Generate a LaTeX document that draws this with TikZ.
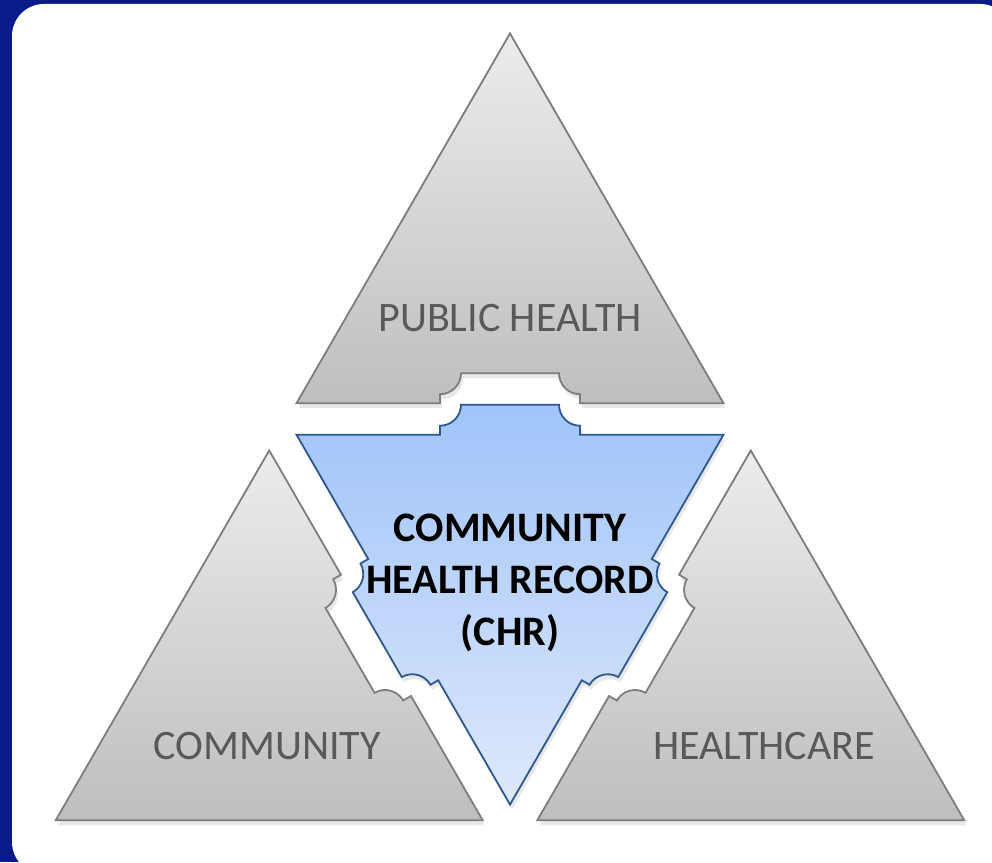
\documentclass[tikz,border=0pt]{standalone}
\usepackage{fontspec}
\setmainfont{Carlito}
\usepackage{tikz}
\usetikzlibrary{shadows}

\definecolor{frameblue}{RGB}{10,26,138}
\definecolor{edgegray}{RGB}{125,125,125}
\definecolor{labelgray}{RGB}{89,89,89}
\definecolor{graytop}{RGB}{236,236,236}
\definecolor{graybot}{RGB}{190,190,190}
\definecolor{edgeblue}{RGB}{47,88,145}
\definecolor{chrtop}{RGB}{160,196,250}
\definecolor{chrbot}{RGB}{222,232,251}

% triangle sizes (1 unit = 1 px of the layout)
\def\hw{213.5}  % half edge
\def\ri{123.27} % inradius
\def\gy{154.77} % inradius + gap
\def\th{369.8}  % triangle height
% tab / notch
\def\tw{70}
\def\ts{9}
\def\tq{21}
\def\tk{11.6}

% one edge bump, rotated by #1, edge at height #2
\newcommand\lugpath[2]{%
  -- ([rotate=#1]-\tw,#2) -- ([rotate=#1]-\tw,#2+\ts)
  .. controls ([rotate=#1]-\tw+\tk,#2+\ts) and ([rotate=#1]-\tw+\tq,#2+\ts+\tq-\tk) .. ([rotate=#1]-\tw+\tq,#2+\ts+\tq)
  -- ([rotate=#1]\tw-\tq,#2+\ts+\tq)
  .. controls ([rotate=#1]\tw-\tq,#2+\ts+\tq-\tk) and ([rotate=#1]\tw-\tk,#2+\ts) .. ([rotate=#1]\tw,#2+\ts)
  -- ([rotate=#1]\tw,#2)}

\begin{document}
\begin{tikzpicture}[x=1pt, y=1pt,
  graytri/.style={top color=graytop, bottom color=graybot, draw=edgegray, line width=1.8pt,
    drop shadow={opacity=0.18, shadow xshift=2pt, shadow yshift=-5pt}},
  chrtri/.style={top color=chrtop, bottom color=chrbot, draw=edgeblue, line width=1.8pt,
    drop shadow={opacity=0.18, shadow xshift=2pt, shadow yshift=-5pt}},
  sidelabel/.style={text=labelgray, font=\fontsize{42}{50}\selectfont},
  chrlabel/.style={align=center, font=\bfseries\fontsize{42}{52}\selectfont}]

  \useasboundingbox (0,0) rectangle (992,862);
  \clip (0,0) rectangle (992,862);
  \fill[frameblue] (0,0) rectangle (992,862);
  \fill[white, rounded corners=32] (12,-12) rectangle (1012,858);

  \begin{scope}[shift={(510,304)}]
    % the three outer pieces
    \foreach \r in {0,-120,-240} {
      \shade[graytri] ([rotate=\r]0,\gy+\th) -- ([rotate=\r]-\hw,\gy)
        \lugpath{\r}{\gy} -- ([rotate=\r]\hw,\gy) -- cycle;
    }
    % centre piece
    \shade[chrtri] ([rotate=0]-\hw,\ri)
      \lugpath{0}{\ri} -- ([rotate=0]\hw,\ri)
      \lugpath{-120}{\ri} -- ([rotate=-120]\hw,\ri)
      \lugpath{-240}{\ri} -- cycle;
  \end{scope}

  \node[sidelabel] (ph) at (510,544) {PUBLIC HEALTH};
  \node[sidelabel] (comm) at (267,116) {COMMUNITY};
  \node[sidelabel] (hc) at (764,116) {HEALTHCARE};
  \node[chrlabel] (chr) at (510,279) {COMMUNITY\\HEALTH RECORD\\(CHR)};
\end{tikzpicture}
\end{document}
